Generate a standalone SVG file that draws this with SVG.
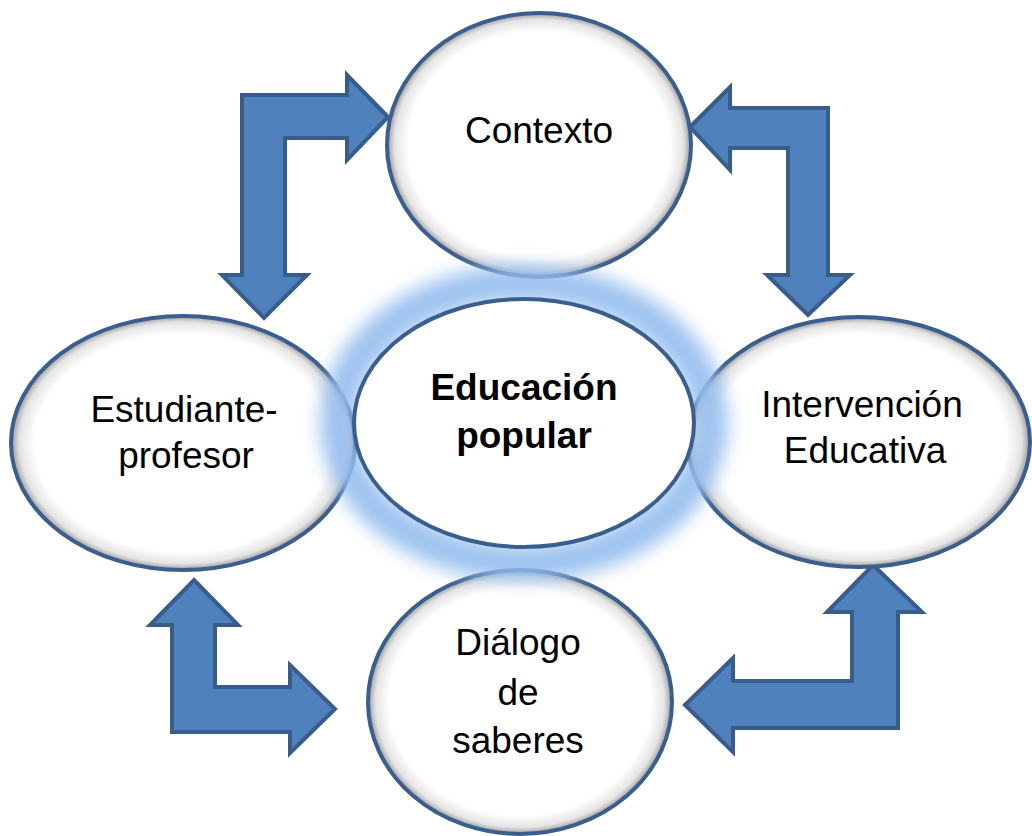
<svg xmlns="http://www.w3.org/2000/svg" width="1032" height="836" viewBox="0 0 1032 836">
  <defs>
    <radialGradient id="inner" cx="0.5" cy="0.5" r="0.5">
      <stop offset="0" stop-color="#ffffff"/>
      <stop offset="0.86" stop-color="#ffffff"/>
      <stop offset="0.95" stop-color="#e4e4e4"/>
      <stop offset="1" stop-color="#9a9a9a"/>
    </radialGradient>
    <filter id="glow" x="-30%" y="-30%" width="160%" height="160%">
      <feGaussianBlur stdDeviation="9"/>
    </filter>
  </defs>
  <style>
    .arrow { fill: #4F81BD; stroke: #385D8A; stroke-width: 4; stroke-linejoin: miter; }
    .node { fill: url(#inner); stroke: #3A5F8F; stroke-width: 4; }
    .center { fill: #ffffff; stroke: #3A5F8F; stroke-width: 4; }
    .lbl { font-family: "Liberation Sans", Arial, sans-serif; font-size: 37px; fill: #000000; text-anchor: middle; }
    .bold { font-weight: bold; }
  </style>
  <rect width="1032" height="836" fill="#ffffff"/>
  <g id="connectors">
    <path class="arrow" d="M388,117 L347,75 L347,95 L242,95 L242,275 L222,275 L264,318 L307,275 L285,275 L285,138 L347,138 L347,160 Z"/>
    <path class="arrow" d="M690,127 L730,87 L730,108 L828,108 L828,275 L850,275 L808,315 L767,275 L788,275 L788,148 L730,148 L730,170 Z"/>
    <path class="arrow" d="M194,580 L238,625 L215,625 L215,687 L290,687 L290,665 L335,709 L290,753 L290,732 L172,732 L172,625 L150,625 Z"/>
    <path class="arrow" d="M873,565 L922,612 L898,612 L898,728 L733,728 L733,752 L685,705 L733,658 L733,681 L852,681 L852,612 L827,612 Z"/>
  </g>
  <g id="node-contexto">
    <ellipse class="node" cx="539" cy="145" rx="152" ry="132"/>
    <text class="lbl" x="539" y="143">Contexto</text>
  </g>
  <g id="node-estudiante">
    <ellipse class="node" cx="183" cy="443" rx="172" ry="127"/>
    <text class="lbl" x="184" y="422">Estudiante-</text>
    <text class="lbl" x="186" y="468">profesor</text>
  </g>
  <g id="node-intervencion">
    <ellipse class="node" cx="859" cy="442" rx="171" ry="125"/>
    <text class="lbl" x="862" y="417">Intervención</text>
    <text class="lbl" x="865" y="463">Educativa</text>
  </g>
  <g id="node-dialogo">
    <ellipse class="node" cx="520" cy="702" rx="152" ry="132"/>
    <text class="lbl" x="518" y="655">Diálogo</text>
    <text class="lbl" x="518" y="705">de</text>
    <text class="lbl" x="518" y="753">saberes</text>
  </g>
  <g id="node-educacion">
    <ellipse cx="524" cy="423" rx="186" ry="140" fill="none" stroke="#94BDEE" stroke-width="36" opacity="0.9" filter="url(#glow)"/>
    <ellipse class="center" cx="524" cy="423" rx="170" ry="124"/>
    <text class="lbl bold" x="524" y="400">Educación</text>
    <text class="lbl bold" x="524" y="448">popular</text>
  </g>
</svg>
